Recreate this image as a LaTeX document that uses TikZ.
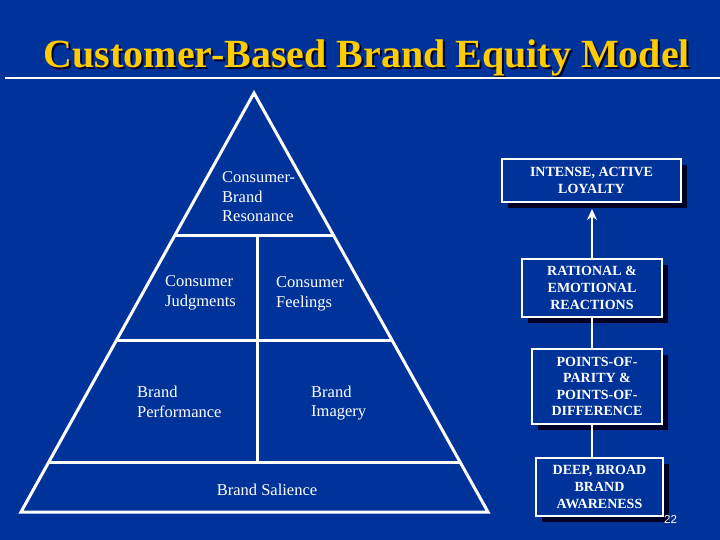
\documentclass[tikz,border=0pt]{standalone}
\usepackage{fontspec}
\setmainfont{Liberation Serif}
\newfontfamily\numfont{Liberation Sans}
\usetikzlibrary{arrows.meta,shadows}
\definecolor{bgblue}{RGB}{0,51,153}
\definecolor{titleyellow}{RGB}{255,204,0}
\definecolor{shadowc}{RGB}{0,0,38}
\newcommand{\shadowtitle}[1]{\makebox[0pt][l]{\hspace{2pt}\raisebox{-2pt}{\color{shadowc}#1}}#1}
\tikzset{
  pyrtext/.style={text=white, inner sep=0pt, align=left, anchor=west, font=\fontsize{16.5}{19.5}\selectfont},
  levelbox/.style={draw=white, line width=1.3pt, fill=bgblue, text=white, align=center, inner sep=0pt,
    font=\bfseries\fontsize{14}{16.6}\selectfont,
    general shadow={fill=shadowc, shadow xshift=6pt, shadow yshift=-6pt}},
  pyrline/.style={draw=white, line width=3pt},
  link/.style={draw=white, line width=2pt}
}
\begin{document}
\begin{tikzpicture}[x=1pt,y=-1pt]
\fill[bgblue] (0,0) rectangle (720,540);
\useasboundingbox (0,0) rectangle (720,540);
% title
\node[anchor=base, inner sep=0pt, text=titleyellow, font=\bfseries\fontsize{40}{44}\selectfont] (title) at (367,68) {\shadowtitle{Customer-Based Brand Equity Model}};
\draw[white, line width=2.5pt] (5,78) -- (720,78);
% pyramid
\draw[pyrline, line join=miter] (21,512) -- (254,93) -- (488,512) -- cycle;
\draw[pyrline] (175,235) -- (333,235);
\draw[pyrline] (116,340) -- (392,340);
\draw[pyrline] (48,462) -- (460,462);
\draw[pyrline] (257,235) -- (257,462);
\node[pyrtext] (res) at (222,197) {Consumer-\\Brand\\Resonance};
\node[pyrtext] (judg) at (165,293) {Consumer\\Judgments};
\node[pyrtext] (feel) at (276,294) {Consumer\\Feelings};
\node[pyrtext] (perf) at (137,402) {Brand\\Performance};
\node[pyrtext] (imag) at (311,403) {Brand\\Imagery};
\node[text=white, inner sep=0pt, font=\fontsize{16.5}{19.5}\selectfont] (sal) at (267,490) {Brand Salience};
% boxes
\node[levelbox, minimum width=179pt, minimum height=43pt] (b1) at (591.5,180.5) {INTENSE, ACTIVE\\LOYALTY};
\node[levelbox, minimum width=140pt, minimum height=58pt] (b2) at (592,288) {RATIONAL \&\\EMOTIONAL\\REACTIONS};
\node[levelbox, minimum width=130pt, minimum height=75pt] (b3) at (597,386.5) {POINTS-OF-\\PARITY \&\\POINTS-OF-\\DIFFERENCE};
\node[levelbox, minimum width=127pt, minimum height=58pt] (b4) at (599.5,487) {DEEP, BROAD\\BRAND\\AWARENESS};
\coordinate (tip) at (592,209);
\draw[link, -{Stealth[length=11pt,width=10pt]}] (b2.north) -- (tip);
\draw[link] (b2.south) -- (b2.south |- b3.north);
\draw[link] (b2.south |- b3.south) -- (b2.south |- b4.north);
\node[text=white, inner sep=0pt, font=\numfont\fontsize{11.5}{13}\selectfont] (page) at (670.5,519) {22};
\end{tikzpicture}
\end{document}
